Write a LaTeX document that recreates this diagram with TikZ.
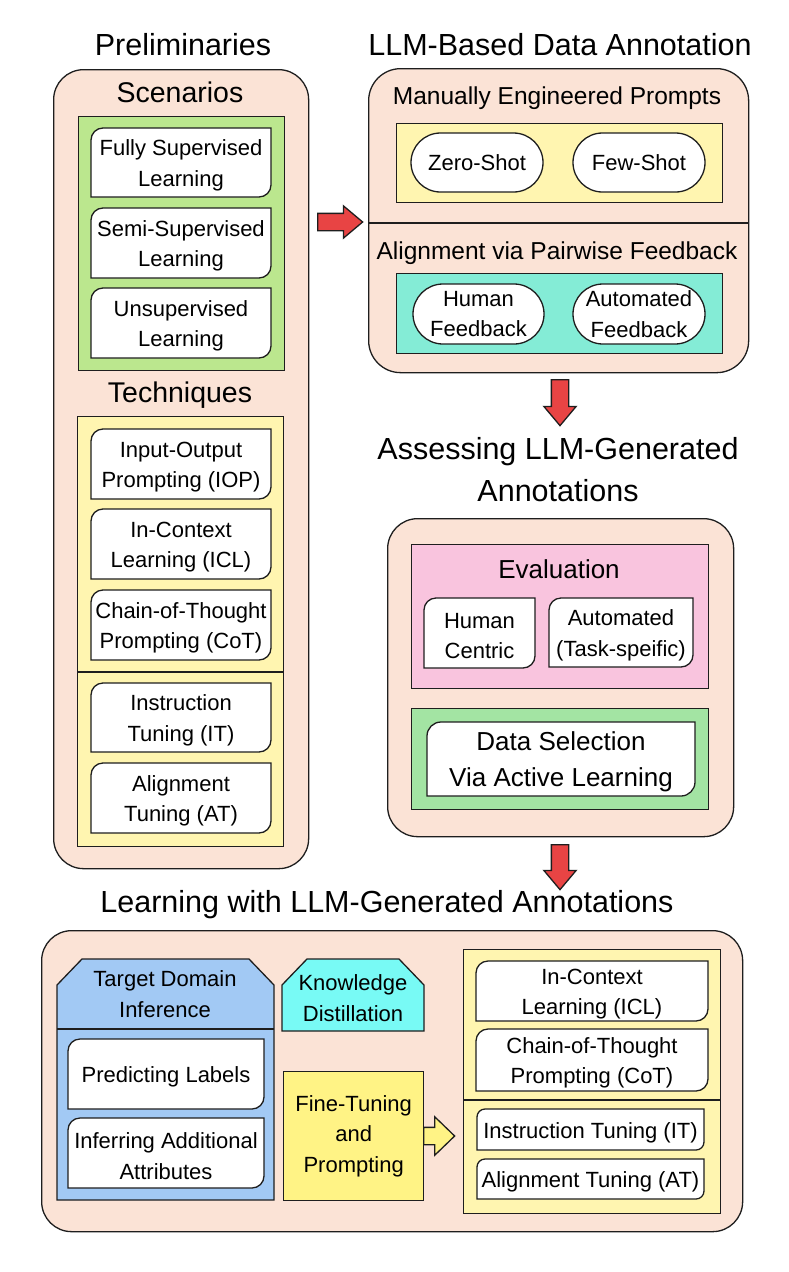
\documentclass[tikz,border=0pt]{standalone}
\usepackage{fontspec}
\setmainfont{Liberation Sans}
\usepackage{tikz}
\usetikzlibrary{shapes.misc, shapes.arrows}
\definecolor{peach}{RGB}{251,227,214}
\definecolor{scengreen}{RGB}{187,231,142}
\definecolor{lightyellow}{RGB}{255,245,176}
\definecolor{fbteal}{RGB}{132,236,214}
\definecolor{evalpink}{RGB}{249,196,222}
\definecolor{selgreen}{RGB}{163,228,163}
\definecolor{tdblue}{RGB}{162,201,244}
\definecolor{kdcyan}{RGB}{120,250,245}
\definecolor{ftyellow}{RGB}{255,243,133}
\definecolor{arrowred}{RGB}{232,68,68}
\definecolor{linecol}{RGB}{30,30,30}
\newcommand{\titlesize}{\fontsize{30.5}{42}\selectfont}
\newcommand{\headsize}{\fontsize{28.5}{36}\selectfont}
\newcommand{\subsize}{\fontsize{24.5}{32}\selectfont}
\newcommand{\selsize}{\fontsize{26}{36}\selectfont}
\newcommand{\itemsize}{\fontsize{22}{30.5}\selectfont}
\tikzset{
  panel/.style={draw=linecol, line width=1.3pt, fill=#1},
  outer/.style={panel=peach, rounded corners=30pt, anchor=north west,
                inner sep=0pt},
  group/.style={panel=#1, anchor=north west, inner sep=0pt},
  item/.style={font=\itemsize, align=center, inner sep=0pt, yshift=-3pt},
  itemfill/.style={draw=linecol, line width=1.3pt, fill=white},
  pill/.style={rounded rectangle, draw=linecol, line width=1.3pt, fill=white,
               font=\itemsize, align=center, inner sep=0pt},
  bigtitle/.style={font=\titlesize, align=center},
  head/.style={font=\headsize, anchor=base},
  subhead/.style={font=\subsize, anchor=base},
  divider/.style={draw=linecol, line width=1.3pt},
  blockarrow/.style={single arrow, draw=linecol, line width=1.3pt, fill=#1,
                     inner xsep=0pt, inner ysep=8pt, single arrow head extend=7.5pt,
                     single arrow tip angle=80, minimum height=45pt, anchor=tail},
  downarrow/.style={blockarrow=#1, shape border rotate=270,
                    inner xsep=8pt, inner ysep=0pt},
}
% white box, rounded top left and bottom right
\newcommand{\dgbox}[7][12pt]{%
  \filldraw[itemfill] ([yshift=-#1]#3,#4) arc[start angle=180, end angle=90, radius=#1]
    -- (#5,#4) -- ([yshift=#1]#5,#6) arc[start angle=0, end angle=-90, radius=#1]
    -- (#3,#6) -- cycle;
  \node[item] (#2) at ({(#3+#5)/2},{(#4+#6)/2}) {#7};}

\begin{document}
\begin{tikzpicture}[x=1pt, y=-1pt]
  \useasboundingbox (0,0) rectangle (789,1272);

  % Preliminaries
  \node[bigtitle, anchor=base] (prelimtitle) at (183,55) {Preliminaries};
  \node[outer, minimum width=255pt, minimum height=799pt] (prelim) at (53,69) {};
  \node[head] (scentitle) at (180,102) {Scenarios};
  \node[group=scengreen, minimum width=206pt, minimum height=254pt] (scen) at (78,116) {};
  \dgbox{fully}{91}{128}{271}{197}{Fully Supervised\\Learning}
  \dgbox{semi}{91}{208}{271}{278}{Semi-Supervised\\Learning}
  \dgbox{unsup}{91}{288}{271}{358}{Unsupervised\\Learning}
  \node[head] (techtitle) at (180,402) {Techniques};
  \node[group=lightyellow, minimum width=206pt, minimum height=430pt] (tech) at (77,416) {};
  \draw[divider] (77,672) -- (283,672);
  \dgbox{iop}{91}{429}{271}{499}{Input-Output\\Prompting (IOP)}
  \dgbox{icl}{91}{509}{271}{579}{In-Context\\Learning (ICL)}
  \dgbox{cot}{91}{590}{271}{660}{Chain-of-Thought\\Prompting (CoT)}
  \dgbox{it}{91}{683}{271}{752}{Instruction\\Tuning (IT)}
  \dgbox{at}{91}{763}{271}{833}{Alignment\\Tuning (AT)}

  % LLM-based annotation
  \node[bigtitle, anchor=base] (annotitle) at (560,55) {LLM-Based Data Annotation};
  \node[outer, rounded corners=32pt, minimum width=380pt, minimum height=304pt] (anno) at (368,68) {};
  \draw[divider] (368,223) -- (748,223);
  \node[subhead] (manualtitle) at (557,104) {Manually Engineered Prompts};
  \node[group=lightyellow, minimum width=326pt, minimum height=79pt] (manual) at (396,123) {};
  \node[pill, minimum width=132pt, minimum height=59pt] (zero) at (477,162.5) {Zero-Shot};
  \node[pill, minimum width=132pt, minimum height=59pt] (few) at (639,162.5) {Few-Shot};
  \node[subhead] (aligntitle) at (557,259) {Alignment via Pairwise Feedback};
  \node[group=fbteal, minimum width=326pt, minimum height=80pt] (pair) at (396,273) {};
  \node[pill, minimum width=131pt, minimum height=60pt] (humanfb) at (478.5,314) {Human\\Feedback};
  \node[pill, minimum width=132pt, minimum height=60pt] (autofb) at (639,314) {Automated\\Feedback};

  \node[blockarrow=arrowred] (arrA) at (317,222) {};

  % Assessing
  \node[downarrow=arrowred, minimum height=46pt] (arrB) at (560,379) {};
  \node[bigtitle] (assesstitle) at (558,470) {Assessing LLM-Generated\\Annotations};
  \node[outer, minimum width=346pt, minimum height=318pt] (assess) at (387,518) {};
  \node[group=evalpink, minimum width=297pt, minimum height=144pt] (eval) at (411,544) {};
  \node[subhead, font=\selsize] (evaltitle) at (559,578) {Evaluation};
  \dgbox{humcentric}{424}{598}{535}{668}{Human\\Centric}
  \dgbox{autotask}{549}{598}{693}{667}{Automated\\(Task-speific)}
  \node[group=selgreen, minimum width=297pt, minimum height=101pt] (sel) at (411,708) {};
  \dgbox[14pt]{active}{427}{722}{695}{796}{\selsize Data Selection\\[6pt]\selsize Via Active Learning}

  % Learning
  \node[downarrow=arrowred] (arrC) at (560,844) {};
  \node[bigtitle, anchor=base] (learntitle) at (387,912) {Learning with LLM-Generated Annotations};
  \node[outer, minimum width=701pt, minimum height=301pt] (learn) at (41,930) {};
  \filldraw[panel=tdblue] (57,1200) -- (57,985) -- (82,959) -- (249,959) -- (274,985) -- (274,1200) -- cycle;
  \draw[divider] (57,1029) -- (274,1029);
  \node[item] (tdi) at (165,991) {Target Domain\\Inference};
  \dgbox{predict}{68}{1039}{264}{1109}{Predicting Labels}
  \dgbox{infer}{68}{1118}{264}{1188}{Inferring Additional\\Attributes}
  \filldraw[panel=kdcyan] (282,1031) -- (282,985) -- (307,959) -- (399,959) -- (424,985) -- (424,1031) -- cycle;
  \node[item] (kd) at (353,995) {Knowledge\\Distillation};
  \node[group=ftyellow, minimum width=140pt, minimum height=129pt, item, yshift=3pt] (ft) at (283,1071) {Fine-Tuning\\and\\Prompting};
  \node[blockarrow=ftyellow, minimum height=31pt, single arrow head extend=10.5pt,
        single arrow tip angle=88] (arrD) at (423,1136) {};
  \node[group=lightyellow, minimum width=257pt, minimum height=264pt] (ftlist) at (463,949) {};
  \draw[divider] (463,1100) -- (720,1100);
  \dgbox{icl2}{476}{961}{708}{1021}{In-Context\\Learning (ICL)}
  \dgbox{cot2}{476}{1029}{708}{1091}{Chain-of-Thought\\Prompting (CoT)}
  \dgbox[8pt]{it2}{477}{1109}{704}{1150}{Instruction Tuning (IT)}
  \dgbox[8pt]{at2}{477}{1159}{704}{1199}{Alignment Tuning (AT)}

\end{tikzpicture}
\end{document}
